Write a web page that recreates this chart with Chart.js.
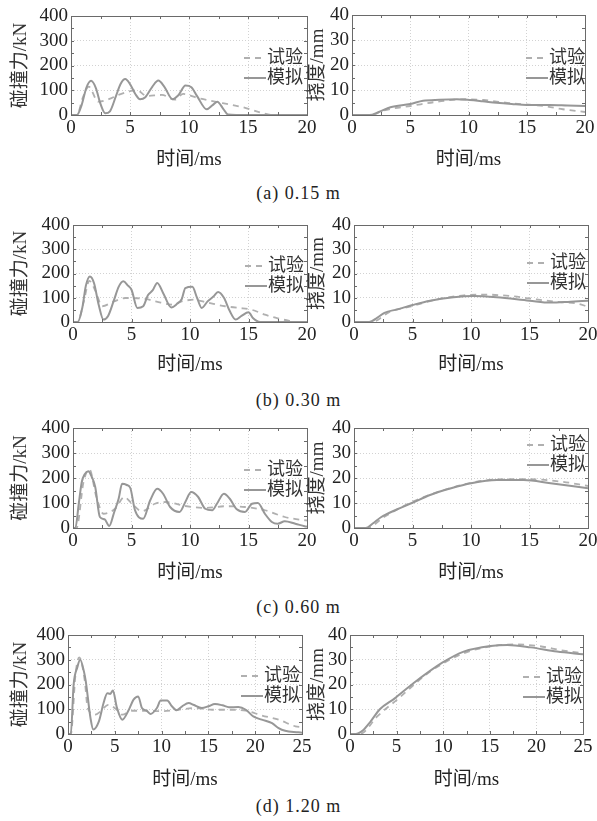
<!DOCTYPE html>
<html><head><meta charset="utf-8">
<script src="https://cdn.jsdelivr.net/npm/chart.js@4.4.0/dist/chart.umd.min.js"></script>
<style>
html,body{margin:0;padding:0;background:#fff;overflow:hidden;width:597px;height:821px;position:relative;}
canvas{position:absolute;}
.cap{position:absolute;left:0;width:597px;text-align:center;font:18px "Liberation Serif","Noto Sans CJK SC",serif;letter-spacing:1px;color:#222;line-height:20px;height:20px;}
</style></head><body>
<script>
// ---------- data (time in ms) ----------
// (a) 0.15 m
const tA_fSim = [0,0.5,0.9,1.3,1.7,2.1,2.5,2.9,3.3,3.8,4.2,4.6,5.0,5.45,5.85,6.3,6.9,7.4,7.9,8.6,9.1,9.7,10.2,10.7,11.5,12.0,12.4,12.9,13.3,14,20];
const fA_sim  = [0,0,40,110,138,110,45,7,15,75,125,145,125,85,64,72,115,139,115,64,80,119,112,75,23,40,54,25,2,0,0];
const tA_fExp = [0,0.5,1.0,1.5,2.3,3.2,4.0,5.1,5.6,6.4,7.7,8.8,9.5,10.8,12.2,13.5,14.7,16.2,17.2,20];
const fA_exp  = [0,0,70,115,54,64,81,97,100,77,81,62,85,68,54,42,30,8,0,0];
const tA_dSim = [0,1.5,2.3,3.3,5,6.1,7.5,9,10.1,11.2,12.4,13.7,15,17,18.5,20];
const dA_sim  = [0,0,1.2,3.1,4.4,5.7,6.1,6.3,6.0,5.5,4.9,4.4,4.0,4.0,3.8,3.6];
const tA_dExp = [0,1.8,2.4,3.5,5,7.3,9.6,11.3,13.6,16.4,18.1,20];
const dA_exp  = [0,0,1.3,2.6,3.6,5.3,6.3,6.0,4.7,3.6,2.3,1.2];
// (b) 0.30 m
const tB_fSim = [0,0.4,0.8,1.1,1.45,1.8,2.2,2.6,3.0,3.5,3.9,4.3,4.7,5.0,5.5,6.0,6.4,6.8,7.2,7.7,8.4,8.9,9.3,9.6,10.2,10.6,11.0,11.5,12.0,12.4,12.9,13.4,13.9,14.4,15.0,15.4,16.0,20];
const fB_sim  = [0,0,60,150,188,160,70,10,25,90,145,168,150,133,58,65,110,130,161,120,60,75,95,140,145,100,58,85,105,124,100,45,10,25,40,15,0,0];
const tB_fExp = [0,0.4,0.9,1.4,1.9,2.5,3.5,4.5,5.5,6.5,7.5,8.4,9.3,10.3,11.5,13.0,14.2,15.3,16.4,17.5,18.5,19.2,20];
const fB_exp  = [0,0,80,170,130,65,85,99,98,92,80,72,85,92,80,65,58,50,30,15,5,0,0];
const tB_dSim = [0,1.3,2.0,2.6,3.7,5,6.5,8.5,10.2,12.2,15,16.8,18.5,20];
const dB_sim  = [0,0,1.8,3.8,5.2,7.0,8.8,10.2,10.7,10.2,8.8,8.0,8.4,8.8];
const tB_dExp = [0,1.5,3.1,5,7.1,9.4,11.1,13.4,15.6,17.6,19.0,20];
const dB_exp  = [0,0,4.3,6.6,9.3,11.0,11.3,10.7,9.3,8.2,7.7,6.3];
// (c) 0.60 m
const tC_fSim = [0,0.2,0.5,0.75,1.0,1.3,1.6,1.9,2.3,2.7,3.1,3.5,3.9,4.2,4.6,4.9,5.3,6.0,6.6,7.2,7.7,8.3,9.1,9.6,10.1,10.7,11.3,11.9,12.3,12.9,13.4,14.0,14.7,15.3,15.8,16.4,17.0,17.5,18.1,19.0,19.8,20];
const fC_sim  = [0,0,100,184,215,227,205,164,44,35,8,60,117,177,172,160,71,37,111,157,137,84,64,104,144,124,77,71,97,137,117,75,64,97,100,57,24,17,27,17,7,5];
const tC_fExp = [0,0.3,0.9,1.4,2.0,2.6,3.6,4.4,4.9,5.9,7.0,7.9,9.6,11.3,13.0,14.7,16.4,18.1,19.8,20];
const fC_exp  = [0,0,184,235,124,57,77,124,104,67,97,104,88,80,87,84,71,44,31,30];
const tC_dSim = [0,1.0,1.6,2.3,3.7,5,6.5,8.3,10,12.2,14.5,16.8,20];
const dC_sim  = [0,0,1.8,4.3,7.5,10.1,13.2,15.9,17.9,19.2,19.2,17.9,15.9];
const tC_dExp = [0,1.1,2.6,5,7.7,10.5,12.8,15,17.8,20];
const dC_exp  = [0,0,4.5,10.5,15.2,18.5,19.5,19.5,18.5,16.8];
// (d) 1.20 m
const tD_fSim = [0,0.3,0.6,1.0,1.3,1.7,1.9,2.4,2.7,3.3,3.8,4.2,4.5,4.8,5.2,5.8,6.5,7.0,7.5,7.9,8.4,8.8,9.5,9.9,10.6,11.1,11.6,12.2,12.9,13.4,14.3,15.0,15.7,16.5,17.2,18.2,19.0,19.8,20.7,21.8,22.5,23.2,24.6,25];
const fD_sim  = [0,0,199,270,300,253,213,65,18,51,125,165,162,176,110,58,98,139,152,105,94,81,105,135,135,112,96,112,125,118,105,112,121,116,108,109,98,71,58,44,24,13,7,5];
const tD_fExp = [0,0.3,0.8,1.2,1.8,2.1,2.9,3.5,4.3,5.1,5.8,6.8,8.3,10.0,11.8,13.6,15.4,17.2,19.0,20.7,22.5,24.3,25];
const fD_exp  = [0,0,240,310,213,105,78,92,118,102,78,94,94,92,98,105,98,98,94,75,58,31,28];
const tD_dSim = [0,0.6,1.4,2.2,3.2,4.8,6.8,9.9,12.2,15.1,16.9,19.4,22.2,25];
const dD_sim  = [0,0,1.5,5,10,14.4,20.5,28.8,33.3,35.6,36.0,35.0,33.3,32.2];
const tD_dExp = [0,0.8,1.4,2.9,5,8.6,12.2,15.1,17.6,20.1,22.9,25];
const dD_exp  = [0,0,0.5,7,13.7,25.2,32.6,35.4,36.2,35.6,33.7,32.6];

const seriesLabels = ['试验','模拟'];
const xTitle = '时间/ms';
const forceTitle = '碰撞力/kN';
const deflTitle = '挠度/mm';
const captions = ['(a) 0.15 m','(b) 0.30 m','(c) 0.60 m','(d) 1.20 m'];

// ---------- layout ----------
const FONT = '"Liberation Serif", "Noto Sans CJK SC", serif';
const rows = [
  {L:{l:71,t:16,r:307,b:115}, R:{l:352,t:15,r:585,b:115}, xt:160, cap:193, xmax:20,
   legL:{x:303,y:58}, legR:{x:585,y:58},
   f:[tA_fExp,fA_exp,tA_fSim,fA_sim], d:[tA_dExp,dA_exp,tA_dSim,dA_sim]},
  {L:{l:73,t:225,r:307,b:322}, R:{l:354,t:225,r:588,b:322}, xt:365, cap:400, xmax:20,
   legL:{x:304,y:266}, legR:{x:586,y:263},
   f:[tB_fExp,fB_exp,tB_fSim,fB_sim], d:[tB_dExp,dB_exp,tB_dSim,dB_sim]},
  {L:{l:73,t:428,r:307,b:528}, R:{l:354,t:428,r:588,b:528}, xt:573, cap:607, xmax:20,
   legL:{x:303,y:470}, legR:{x:586,y:445},
   f:[tC_fExp,fC_exp,tC_fSim,fC_sim], d:[tC_dExp,dC_exp,tC_dSim,dC_sim]},
  {L:{l:68,t:635,r:302,b:734}, R:{l:350,t:635,r:583,b:734}, xt:780, cap:806, xmax:25,
   legL:{x:300,y:676}, legR:{x:582,y:677},
   f:[tD_fExp,fD_exp,tD_fSim,fD_sim], d:[tD_dExp,dD_exp,tD_dSim,dD_sim]}
];

function pts(t, v){ return t.map((x,i)=>({x:x, y:v[i]})); }

const framePlugin = {
  id:'frame',
  afterDatasetsDraw(chart){
    const {ctx, chartArea:a, scales:{x, y}} = chart;
    ctx.save();
    ctx.strokeStyle = '#6a6a6a'; ctx.lineWidth = 1; ctx.setLineDash([]);
    ctx.strokeRect(Math.round(a.left)+0.5, Math.round(a.top)+0.5, Math.round(a.right-a.left), Math.round(a.bottom-a.top));
    ctx.beginPath();
    const xs = x.options.ticks.stepSize/2, ys = y.options.ticks.stepSize/2;
    for (let v = x.min; v <= x.max+1e-9; v += xs){
      const px = Math.round(x.getPixelForValue(v))+0.5;
      ctx.moveTo(px, a.bottom); ctx.lineTo(px, a.bottom-3);
      ctx.moveTo(px, a.top); ctx.lineTo(px, a.top+3);
    }
    for (let v = y.min; v <= y.max+1e-9; v += ys){
      const py = Math.round(y.getPixelForValue(v))+0.5;
      ctx.moveTo(a.left, py); ctx.lineTo(a.left+3, py);
      ctx.moveTo(a.right, py); ctx.lineTo(a.right-3, py);
    }
    ctx.stroke();
    ctx.restore();
  }
};

const legendPlugin = {
  id:'inlineLegend',
  afterDraw(chart, args, opts){
    const ctx = chart.ctx;
    ctx.save();
    ctx.font = '18px ' + FONT;
    ctx.textBaseline = 'middle';
    ctx.textAlign = 'right';
    chart.data.datasets.forEach((ds, i) => {
      const y = opts.y + i*opts.gap;
      const x = opts.x;
      const w = ctx.measureText(ds.label).width;
      ctx.fillStyle = '#333';
      ctx.fillText(ds.label, x, y);
      ctx.beginPath();
      ctx.setLineDash(ds.borderDash || []);
      ctx.strokeStyle = ds.borderColor; ctx.lineWidth = ds.borderWidth;
      ctx.moveTo(x - w - 23, y); ctx.lineTo(x - w - 1, y);
      ctx.stroke();
    });
    ctx.restore();
  }
};

function makeChart(area, cx, cw, xt, xmax, ymax, ystep, ytitle, ytPad, series, leg){
  const lh = 19*1.2;
  const cy = area.t - 16;
  const ch = Math.round(xt + lh/2 - cy);
  const cv = document.createElement('canvas');
  cv.width = cw; cv.height = ch;
  cv.style.left = cx + 'px'; cv.style.top = cy + 'px';
  cv.style.width = cw + 'px'; cv.style.height = ch + 'px';
  document.body.appendChild(cv);
  const tickFont = {family:FONT, size:19};
  new Chart(cv.getContext('2d'), {
    type:'line',
    data:{datasets:[
      {label:seriesLabels[0], data:pts(series[0],series[1]), borderColor:'#b0b0b0', borderWidth:1.8, borderDash:[6,5], pointRadius:0, cubicInterpolationMode:'monotone', fill:false, order:1},
      {label:seriesLabels[1], data:pts(series[2],series[3]), borderColor:'#979797', borderWidth:2, pointRadius:0, cubicInterpolationMode:'monotone', fill:false, order:0}
    ]},
    options:{
      responsive:false, animation:false, devicePixelRatio:1,
      layout:{padding:{left:0, top:area.t-cy, right:cx+cw-area.r, bottom:0}},
      plugins:{legend:{display:false}, tooltip:{enabled:false},
        inlineLegend:{x:leg.x-cx, y:leg.y-cy, gap:20}},
      scales:{
        x:{type:'linear', min:0, max:xmax,
           ticks:{stepSize:5, font:tickFont, color:'#222', padding:2, maxRotation:0, autoSkip:false},
           grid:{color:'#d2d2d2', drawTicks:false, lineWidth:1},
           border:{display:false, dash:[1,2]},
           title:{display:true, text:xTitle, font:{family:FONT, size:19, lineHeight:1.2}, color:'#222', padding:0},
           afterFit(s){ s.height = cy + ch - area.b; }},
        y:{type:'linear', min:0, max:ymax,
           ticks:{stepSize:ystep, font:tickFont, color:'#222', padding:3, autoSkip:false},
           grid:{color:'#d2d2d2', drawTicks:false, lineWidth:1},
           border:{display:false, dash:[1,2]},
           title:{display:true, text:ytitle, font:{family:FONT, size:19, lineHeight:1.2}, color:'#333', padding:{top:ytPad, bottom:0}},
           afterFit(s){ s.width = area.l - cx; }}
      }
    },
    plugins:[framePlugin, legendPlugin]
  });
}

rows.forEach((r, i) => {
  makeChart(r.L, 0, 320, r.xt, r.xmax, 400, 100, forceTitle, 9.5, r.f, r.legL);
  makeChart(r.R, 295, 312, r.xt, r.xmax, 40, 10, deflTitle, 12, r.d, r.legR);
  const c = document.createElement('div');
  c.className = 'cap';
  c.style.top = (r.cap - 10) + 'px';
  c.textContent = captions[i];
  document.body.appendChild(c);
});
</script>
</body></html>
